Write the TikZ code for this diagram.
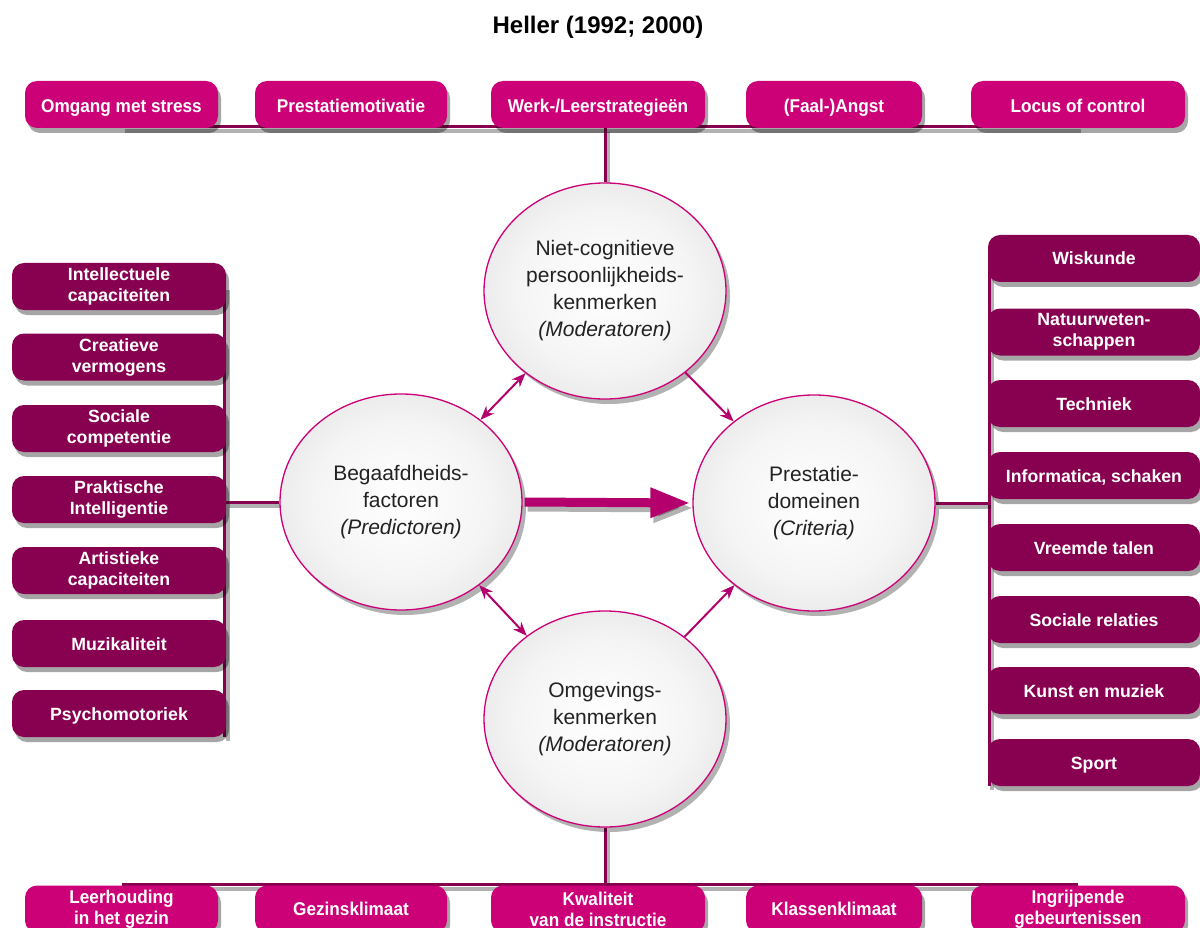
\documentclass[tikz,border=0pt]{standalone}
\usepackage{fontspec}
\setmainfont{Liberation Sans}
\newfontfamily\narrowsans[FakeStretch=0.93]{Liberation Sans}
\usetikzlibrary{shadows,arrows.meta,shapes.geometric}
\definecolor{mag}{HTML}{CC0077}
\definecolor{maroon}{HTML}{880050}
\definecolor{lnk}{HTML}{B3006C}
\definecolor{ctext}{HTML}{222222}
\pgfdeclarelayer{background}
\pgfdeclarelayer{canvas}
\pgfsetlayers{canvas,background,main}
\pgfdeclareradialshading{circshade}{\pgfpoint{0bp}{0bp}}{color(0bp)=(white); color(18bp)=(black!4); color(50bp)=(black!20)}
\begin{document}
\begin{tikzpicture}[x=1pt,y=-1pt,
  boxshadow/.style={drop shadow={shadow xshift=3pt, shadow yshift=-5pt, opacity=0.35, fill=black}},
  hbox/.style={rounded corners=12pt, fill=mag, text=white, align=center, inner sep=0pt,
     minimum height=47pt, font=\narrowsans\bfseries\fontsize{18.5}{21}\selectfont, boxshadow},
  vbox/.style={rounded corners=12pt, fill=maroon, text=white, align=center, inner sep=0pt,
     minimum height=47pt, minimum width=214pt, font=\bfseries\fontsize{17.7}{21}\selectfont, boxshadow},
  one/.style={text height=13pt, text depth=0pt},
  oneh/.style={text height=16.5pt, text depth=0pt},
  circ/.style={ellipse, draw=mag, line width=1.3pt, shading=circshade, minimum width=242pt, minimum height=216pt,
     align=center, text=ctext, font=\fontsize{21}{27}\selectfont, inner sep=0pt,
     drop shadow={shadow xshift=4pt, shadow yshift=-5pt, opacity=0.3, fill=black}},
  busline/.style={draw=maroon, line width=3pt,
     preaction={draw=black, opacity=0.3, line width=4pt, transform canvas={shift={(3pt,-4pt)}}}},
  link/.style={draw=lnk, line width=2pt},
  tip/.style={-{Stealth[length=14pt,width=11pt]}},
  dtip/.style={{Stealth[length=14pt,width=11pt]}-{Stealth[length=14pt,width=11pt]}}
]
\useasboundingbox (0,0) rectangle (1200,928);
\begin{pgfonlayer}{canvas}
\fill[white] (0,0) rectangle (1200,928);
\end{pgfonlayer}

\node[font=\bfseries\fontsize{24}{28}\selectfont, inner sep=0pt] (title) at (598,27) {Heller (1992; 2000)};

% top boxes
\node[hbox, oneh, minimum width=193pt] (t1) at (121.5,104.5) {Omgang met stress};
\node[hbox, oneh, minimum width=192pt] (t2) at (351,104.5) {Prestatiemotivatie};
\node[hbox, oneh, minimum width=214pt] (t3) at (598,104.5) {Werk-/Leerstrategieën};
\node[hbox, oneh, minimum width=176pt] (t4) at (834,104.5) {(Faal-)Angst};
\node[hbox, oneh, minimum width=214pt] (t5) at (1078,104.5) {Locus of control};

% bottom boxes
\node[hbox, minimum width=193pt] (b1) at (121.5,909) {Leerhouding\\in het gezin};
\node[hbox, one, minimum width=192pt] (b2) at (351,909) {Gezinsklimaat};
\node[hbox, minimum width=214pt] (b3) at (598,909) {Kwaliteit\\van de instructie};
\node[hbox, one, minimum width=176pt] (b4) at (834,909) {Klassenklimaat};
\node[hbox, minimum width=214pt] (b5) at (1078,909) {Ingrijpende\\gebeurtenissen};

% left boxes
\node[vbox] (l1) at (119,286.5) {Intellectuele\\capaciteiten};
\node[vbox] (l2) at (119,357) {Creatieve\\vermogens};
\node[vbox] (l3) at (119,428.5) {Sociale\\competentie};
\node[vbox] (l4) at (119,499.5) {Praktische\\Intelligentie};
\node[vbox] (l5) at (119,570.5) {Artistieke\\capaciteiten};
\node[vbox, one] (l6) at (119,643.5) {Muzikaliteit};
\node[vbox, one] (l7) at (119,713.5) {Psychomotoriek};

% right boxes
\node[vbox, one, minimum width=212pt] (r1) at (1094,258.5) {Wiskunde};
\node[vbox, minimum width=212pt] (r2) at (1094,332) {Natuurweten-\\schappen};
\node[vbox, one, minimum width=212pt] (r3) at (1094,403.5) {Techniek};
\node[vbox, one, minimum width=212pt] (r4) at (1094,475.5) {Informatica, schaken};
\node[vbox, one, minimum width=212pt] (r5) at (1094,547.5) {Vreemde talen};
\node[vbox, one, minimum width=212pt] (r6) at (1094,619.5) {Sociale relaties};
\node[vbox, one, minimum width=212pt] (r7) at (1094,690.5) {Kunst en muziek};
\node[vbox, one, minimum width=212pt] (r8) at (1094,762.5) {Sport};

% circles
\node[circ] (cT) at (605,291) {Niet-cognitieve\\persoonlijkheids-\\kenmerken\\\textit{(Moderatoren)}};
\node[circ] (cL) at (401,502) {Begaafdheids-\\factoren\\\textit{(Predictoren)}};
\node[circ] (cR) at (814,503) {Prestatie-\\domeinen\\\textit{(Criteria)}};
\node[circ] (cB) at (605,719) {Omgevings-\\kenmerken\\\textit{(Moderatoren)}};

\coordinate (topbus) at (cT.north |- t1.south);
\coordinate (botbus) at (cB.south |- b1.north);
\coordinate (leftbus) at (l1.east |- cL.west);
\coordinate (rightbus) at (r1.west |- cR.east);

\begin{pgfonlayer}{background}
\draw[busline] ([yshift=1.5pt]t1.south) -- ([yshift=1.5pt]t5.south);
\draw[busline] (topbus) -- (cT.north);
\draw[busline] ([yshift=0.5pt]b1.north) -- ([yshift=0.5pt]b5.north);
\draw[busline] (cB.south) -- (botbus);
\draw[busline] ([xshift=-1.5pt]l1.east) -- ([xshift=-1.5pt]l7.south east);
\draw[busline] (leftbus) -- (cL.west);
\draw[busline] ([xshift=1.5pt]r1.west) -- ([xshift=1.5pt]r8.south west);
\draw[busline] (cR.east) -- (rightbus);
\end{pgfonlayer}

% arrows
\draw[link, dtip] (cL) -- (cT);
\draw[link, tip] (cT) -- (cR);
\draw[link, dtip] (cL) -- (cB);
\draw[link, tip] (cB) -- (cR);

% thick arrow
\draw[draw=black, opacity=0.3, line width=9pt, -{Triangle[length=40pt,width=28pt]}, transform canvas={shift={(3pt,-5pt)}}]
  ([xshift=2pt]cL.east) -- ([xshift=-2pt]cR.west);
\draw[draw=lnk, line width=9pt, -{Triangle[length=40pt,width=28pt]}] ([xshift=2pt]cL.east) -- ([xshift=-2pt]cR.west);
\end{tikzpicture}
\end{document}
